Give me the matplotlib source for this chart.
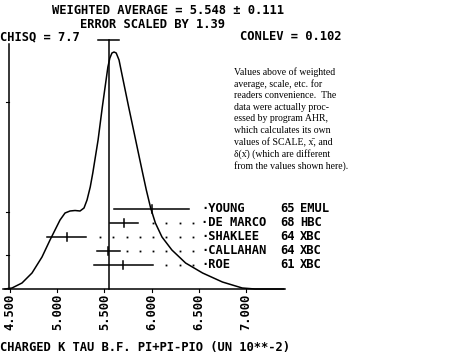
import matplotlib
matplotlib.use("Agg")
import matplotlib.pyplot as plt

# ideogram curve (x in units of 1e-2, y = arbitrary height)
curve_x = [4.447, 4.521, 4.627, 4.733, 4.839, 4.924, 4.977, 5.030, 5.083, 5.136, 5.189,
           5.242, 5.284, 5.316, 5.350, 5.377, 5.433, 5.478, 5.503, 5.537, 5.558, 5.580,
           5.602, 5.625, 5.655, 5.683, 5.720, 5.757, 5.793, 5.831, 5.869, 5.905, 5.944,
           5.990, 6.040, 6.110, 6.215, 6.360, 6.540, 6.750, 6.960, 7.095, 7.40]
curve_y = [0, 1, 6, 16, 32, 49, 59, 69, 76, 78, 78.5,
           78, 81, 89, 102, 116, 149, 182, 199, 222, 231, 236,
           237, 236, 229, 216, 199, 182, 166, 149, 132, 116, 99,
           81, 66, 52, 39, 26, 16, 7, 1, 0, 0]

names = ["YOUNG", "DE MARCO", "SHAKLEE", "CALLAHAN", "ROE"]
years = ["65", "68", "64", "64", "61"]
techs = ["EMUL", "HBC", "XBC", "XBC", "XBC"]
values = [6.00, 5.71, 5.10, 5.54, 5.70]
errors = [0.40, 0.15, 0.21, 0.12, 0.31]
avg, avg_err = 5.548, 0.111
ticks = [4.5, 5.0, 5.5, 6.0, 6.5, 7.0]

W, H = 474, 355
X0, PX = 10, 94.4   # pixel column of 4.5 and pixels per unit
Y0 = 289            # pixel row of the baseline
MONO = dict(family="DejaVu Sans Mono", fontweight="bold", fontsize=8.7, color="black")
SERIF = dict(family="Liberation Serif", fontsize=7.0, color="black")

def dx(px):
    return 4.5 + (px - X0) / PX

fig = plt.figure(figsize=(W / 100, H / 100), dpi=100)
ax = fig.add_axes([0, 0, 1, 1])
ax.set_xlim(dx(0), dx(W))
ax.set_ylim(-(H - Y0), Y0)
ax.axis("off")

lw = 1.1
# axes frame: baseline + left vertical
ax.plot([dx(3), dx(285)], [0, 0], color="k", lw=lw)
ax.plot([dx(9), dx(9)], [0, Y0 - 44], color="k", lw=lw)
for h in [187, 77, 34]:
    ax.plot([dx(6), dx(9)], [h, h], color="k", lw=0.8)
for t in ticks:
    ax.plot([t, t], [0, -3], color="k", lw=0.8)
    ax.text(t, -5, f"{t:.3f}", rotation=90, ha="center", va="top", **MONO)

# ideogram
ax.plot(curve_x, curve_y, color="k", lw=lw, solid_joinstyle="round")

# weighted average line with error cap
ax.plot([avg, avg], [0, Y0 - 40], color="k", lw=lw)
ax.plot([avg - avg_err, avg + avg_err], [Y0 - 40, Y0 - 40], color="k", lw=lw)

# measurements
row_y = [80 - 14 * i for i in range(len(names))]
step = 0.14
for n, yr, tc, v, e, y in zip(names, years, techs, values, errors, row_y):
    ax.plot([v - e, v + e], [y, y], color="k", lw=lw)
    ax.plot([v, v], [y - 4, y + 4], color="k", lw=lw)
    xd = dx(206) - step
    while xd > v + e + 0.05:
        ax.plot(xd, y, marker="s", ms=1.3, color="k", mew=0)
        xd -= step
    ax.text(dx(201), y, "\u00b7" + n, ha="left", va="center", **MONO)
    ax.text(dx(280), y, yr, ha="left", va="center", **MONO)
    ax.text(dx(300), y, tc, ha="left", va="center", **MONO)

# header and footer
def ftext(px, py, s, **kw):
    fig.text(px / W, 1 - py / H, s, ha="left", va="center", **kw)

ftext(52, 10, "WEIGHTED AVERAGE = 5.548 \u00b1 0.111", **MONO)
ftext(80, 24, "ERROR SCALED BY 1.39", **MONO)
ftext(0, 37, "CHISQ = 7.7", **MONO)
ftext(240, 37, "CONLEV = 0.102", **MONO)
ftext(0, 348, "CHARGED K TAU B.F. PI+PI-PIO (UN 10**-2)", **MONO)

note = ["Values above of weighted",
        "average, scale, etc. for",
        "readers convenience.  The",
        "data were actually proc-",
        "essed by program AHR,",
        "which calculates its own",
        "values of SCALE, x\u0304, and",
        "\u03b4(x\u0304) (which are different",
        "from the values shown here)."]
for i, line in enumerate(note):
    ftext(234, 72 + 11.7 * i, line, **SERIF)

fig.savefig("out.png", dpi=100)
